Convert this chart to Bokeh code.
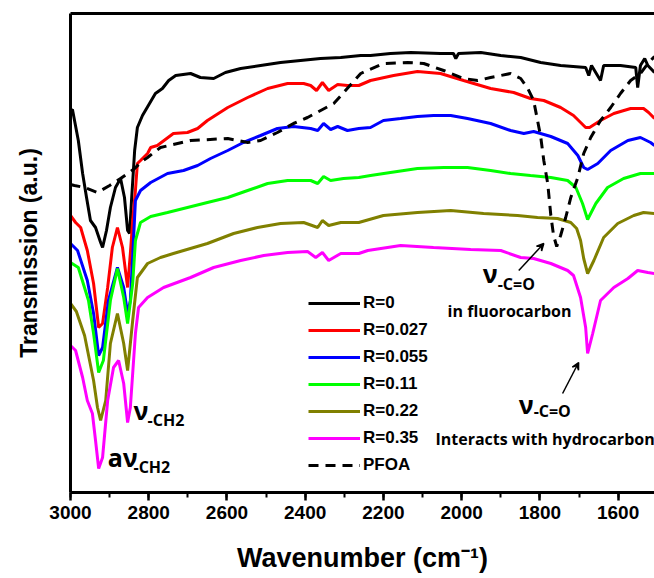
from bokeh.plotting import figure
from bokeh.models import (Range1d, Legend, LegendItem, Label, Arrow, VeeHead,
                          LinearAxis, SingleIntervalTicker, FixedTicker)
from bokeh.embed import file_html
from bokeh.resources import INLINE

# ---------------- data ----------------
series_names = ["R=0", "R=0.027", "R=0.055", "R=0.11", "R=0.22", "R=0.35", "PFOA"]
series_colors = ["#000000", "#FF0000", "#0000FF", "#00FF00", "#808000", "#FF00FF", "#000000"]

wn_r0 = [3000, 2995, 2980, 2969, 2959, 2949, 2936, 2923, 2918, 2908, 2898, 2885, 2872, 2862, 2854,
         2849, 2844, 2836, 2829, 2816, 2801, 2783, 2765, 2749, 2731, 2693, 2668, 2634, 2604, 2565,
         2514, 2463, 2412, 2361, 2309, 2258, 2233, 2182, 2130, 2054, 2021, 2015, 2008, 1951, 1900,
         1849, 1798, 1747, 1683, 1675, 1668, 1645, 1637, 1594, 1555, 1550, 1543, 1532, 1524, 1507]
t_r0 = [382, 383, 352, 319, 295, 272, 265, 250, 245, 262, 285, 305, 314, 295, 262,
        259, 292, 342, 365, 377, 387, 399, 404, 412, 417, 419, 415, 414, 420, 424,
        427, 430, 432, 434, 435, 437, 437, 439, 440, 439, 439, 434, 439, 440, 437,
        435, 430, 427, 425, 417, 427, 412, 427, 427, 425, 405, 427, 434, 427, 420]

wn_r027 = [3000, 2987, 2974, 2957, 2941, 2928, 2918, 2905, 2893, 2880, 2867, 2854, 2847, 2841, 2834,
           2829, 2821, 2803, 2795, 2778, 2737, 2701, 2675, 2650, 2598, 2547, 2496, 2445, 2404, 2386,
           2371, 2356, 2340, 2317, 2292, 2263, 2233, 2174, 2113, 2054, 1995, 1926, 1867, 1824, 1790,
           1747, 1714, 1683, 1673, 1645, 1611, 1568, 1535, 1522, 1507]
t_r027 = [277, 270, 265, 242, 209, 165, 169, 205, 245, 265, 245, 205, 239, 272, 302,
          329, 332, 339, 345, 347, 359, 360, 364, 372, 385, 395, 404, 409, 409, 407,
          402, 410, 402, 408, 407, 407, 412, 417, 421, 419, 412, 404, 400, 394, 392,
          385, 377, 365, 365, 372, 379, 384, 384, 380, 374]

wn_r055 = [3000, 2982, 2957, 2941, 2928, 2918, 2903, 2880, 2864, 2854, 2847, 2839, 2834, 2821, 2795,
           2752, 2711, 2675, 2642, 2598, 2558, 2514, 2471, 2430, 2386, 2368, 2353, 2335, 2317, 2292,
           2263, 2233, 2200, 2156, 2113, 2072, 2028, 1985, 1926, 1875, 1841, 1816, 1772, 1729, 1703,
           1688, 1678, 1652, 1619, 1575, 1543, 1517, 1507]
t_r055 = [249, 242, 212, 179, 137, 145, 192, 225, 205, 179, 192, 252, 292, 302, 310,
          319, 322, 327, 334, 342, 350, 357, 364, 366, 364, 362, 369, 363, 366, 362,
          364, 365, 372, 374, 376, 377, 377, 374, 369, 362, 359, 361, 356, 349, 337,
          325, 323, 329, 342, 352, 355, 350, 347]

wn_r11 = [3000, 2980, 2954, 2941, 2928, 2916, 2898, 2880, 2864, 2854, 2841, 2834, 2821, 2795, 2752,
          2701, 2650, 2598, 2547, 2496, 2445, 2386, 2368, 2353, 2335, 2302, 2263, 2233, 2182, 2113,
          2046, 1985, 1926, 1875, 1824, 1772, 1729, 1708, 1691, 1678, 1657, 1627, 1586, 1543, 1507]
t_r11 = [230, 225, 192, 159, 120, 132, 192, 224, 195, 169, 209, 252, 270, 276, 280,
         285, 290, 295, 302, 309, 312, 312, 309, 316, 312, 314, 315, 317, 320, 324,
         325, 325, 322, 319, 317, 315, 312, 305, 289, 273, 289, 305, 314, 319, 319]

wn_r22 = [3000, 2985, 2964, 2941, 2931, 2923, 2910, 2898, 2880, 2864, 2854, 2841, 2829, 2803, 2770,
          2737, 2650, 2583, 2522, 2463, 2404, 2368, 2356, 2340, 2309, 2263, 2200, 2113, 2028, 1944,
          1857, 1806, 1755, 1721, 1706, 1696, 1688, 1678, 1662, 1637, 1601, 1560, 1535, 1507]
t_r22 = [189, 181, 157, 112, 85, 72, 92, 149, 179, 149, 122, 172, 215, 229, 235,
         239, 249, 259, 265, 269, 270, 265, 272, 267, 270, 270, 277, 280, 282, 279,
         277, 275, 274, 270, 264, 252, 234, 219, 232, 255, 269, 277, 280, 279]

wn_r35 = [3000, 2987, 2969, 2957, 2944, 2936, 2928, 2918, 2905, 2890, 2877, 2864, 2854, 2847, 2834,
          2826, 2803, 2762, 2693, 2634, 2565, 2506, 2445, 2394, 2373, 2356, 2340, 2309, 2263, 2240,
          2156, 2072, 1977, 1900, 1849, 1816, 1772, 1729, 1714, 1696, 1683, 1678, 1665, 1645, 1611,
          1575, 1550, 1524, 1507]
t_r35 = [147, 142, 115, 92, 79, 52, 24, 35, 92, 125, 132, 109, 70, 85, 159,
         185, 195, 205, 215, 225, 232, 237, 240, 241, 235, 240, 232, 239, 239, 242,
         247, 245, 243, 242, 235, 234, 229, 222, 217, 195, 165, 139, 159, 192, 205,
         214, 222, 220, 219]

wn_pfoa = [3000, 2990, 2964, 2931, 2900, 2872, 2836, 2821, 2803, 2770, 2693, 2598, 2547, 2514, 2471,
           2430, 2394, 2327, 2258, 2200, 2138, 2097, 2046, 1995, 1959, 1926, 1875, 1849, 1831, 1816,
           1806, 1798, 1790, 1780, 1772, 1765, 1757, 1747, 1734, 1721, 1703, 1688, 1670, 1645, 1619,
           1594, 1568, 1543, 1524, 1507]
t_pfoa = [308, 307, 305, 300, 307, 314, 324, 330, 335, 345, 352, 354, 350, 352, 360,
          369, 375, 389, 419, 429, 430, 429, 422, 414, 412, 415, 419, 414, 404, 392,
          372, 356, 332, 309, 277, 257, 246, 257, 275, 295, 315, 339, 355, 372, 385,
          399, 412, 419, 429, 436]

x_ticks_interval = 200
# ------------------------------------------------------------------

all_wn = [wn_r0, wn_r027, wn_r055, wn_r11, wn_r22, wn_r35, wn_pfoa]
all_t = [t_r0, t_r027, t_r055, t_r11, t_r22, t_r35, t_pfoa]

p = figure(width=654, height=578, x_range=Range1d(3000, 1507), y_range=Range1d(0, 479),
           output_backend="svg", toolbar_location=None,
           min_border_left=70, min_border_right=0, min_border_top=13, min_border_bottom=86)
p.outline_line_color = None
p.grid.visible = False

ax_font = "Liberation Sans"

xa = p.xaxis[0]
xa.ticker = SingleIntervalTicker(interval=x_ticks_interval, num_minor_ticks=2)
xa.axis_line_width = 3
xa.axis_line_color = "black"
xa.major_tick_line_width = 2.5
xa.minor_tick_line_width = 2
xa.major_tick_out = 8
xa.major_tick_in = 0
xa.minor_tick_out = 5
xa.minor_tick_in = 0
xa.major_label_text_font = ax_font
xa.major_label_text_font_style = "bold"
xa.major_label_text_font_size = "19px"
xa.major_label_text_color = "black"
xa.major_label_standoff = 5
xa.axis_label = "Wavenumber (cm\u207b\u00b9)"
xa.axis_label_text_font = ax_font
xa.axis_label_text_font_style = "bold"
xa.axis_label_text_font_size = "27px"
xa.axis_label_text_color = "black"
xa.axis_label_standoff = 21

ya = p.yaxis[0]
ya.ticker = FixedTicker(ticks=[])
ya.axis_line_width = 3
ya.axis_line_color = "black"
ya.major_label_text_font_size = "0px"
ya.major_tick_out = 0
ya.minor_tick_out = 0
ya.axis_label = "Transmission (a.u.)"
ya.axis_label_text_font = ax_font
ya.axis_label_text_font_style = "bold"
ya.axis_label_text_font_size = "23px"
ya.axis_label_text_color = "black"
ya.axis_label_standoff = 29

top = LinearAxis(ticker=FixedTicker(ticks=[]), axis_line_width=3, axis_line_color="black",
                 major_label_text_font_size="0px", major_tick_out=0, major_tick_in=0,
                 minor_tick_out=0, minor_tick_in=0, major_label_standoff=0,
                 axis_label_standoff=0)
p.add_layout(top, "above")

renderers = []
for wn, t, col, name in zip(all_wn, all_t, series_colors, series_names):
    if name == "PFOA":
        r = p.line(wn, t, line_color=col, line_width=3, line_dash="10 7")
    else:
        r = p.line(wn, t, line_color=col, line_width=3)
    renderers.append(r)

items = [LegendItem(label=n, renderers=[r]) for n, r in zip(series_names, renderers)]
legend = Legend(items=items, location=(238, 17), glyph_width=52, glyph_height=20,
                label_height=20, spacing=7, padding=0, margin=0, label_standoff=3,
                background_fill_alpha=0, border_line_color=None,
                label_text_font=ax_font, label_text_font_style="bold",
                label_text_font_size="17px", label_text_color="black")
p.add_layout(legend)

ann_font = "Open Sans"

def lab(x, y, text, size):
    p.add_layout(Label(x=x, y=y, text=text, text_font=ann_font, text_font_style="bold",
                       text_font_size=size, text_baseline="middle", text_align="left",
                       text_color="black"))

lab(2839, 83, "\u03bd", "25px")
lab(2803, 73, "-CH2", "16px")
lab(2905, 36, "a\u03bd", "25px")
lab(2839, 26, "-CH2", "16px")
lab(1946, 220, "\u03bd", "25px")
lab(1908, 209, "-C=O", "16px")
lab(2036, 182, "in fluorocarbon", "16px")
lab(1854, 89, "\u03bd", "25px")
lab(1816, 82, "-C=O", "16px")
lab(2067, 54, "Interacts with hydrocarbon", "16px")

p.add_layout(Arrow(end=VeeHead(size=7, line_width=1.5, fill_color="black"),
                   x_start=1854, y_start=222, x_end=1790, y_end=249, line_width=1.5))
p.add_layout(Arrow(end=VeeHead(size=7, line_width=1.5, fill_color="black"),
                   x_start=1742, y_start=99, x_end=1701, y_end=130, line_width=1.5))

open("out.html", "w").write(file_html(p, INLINE))
